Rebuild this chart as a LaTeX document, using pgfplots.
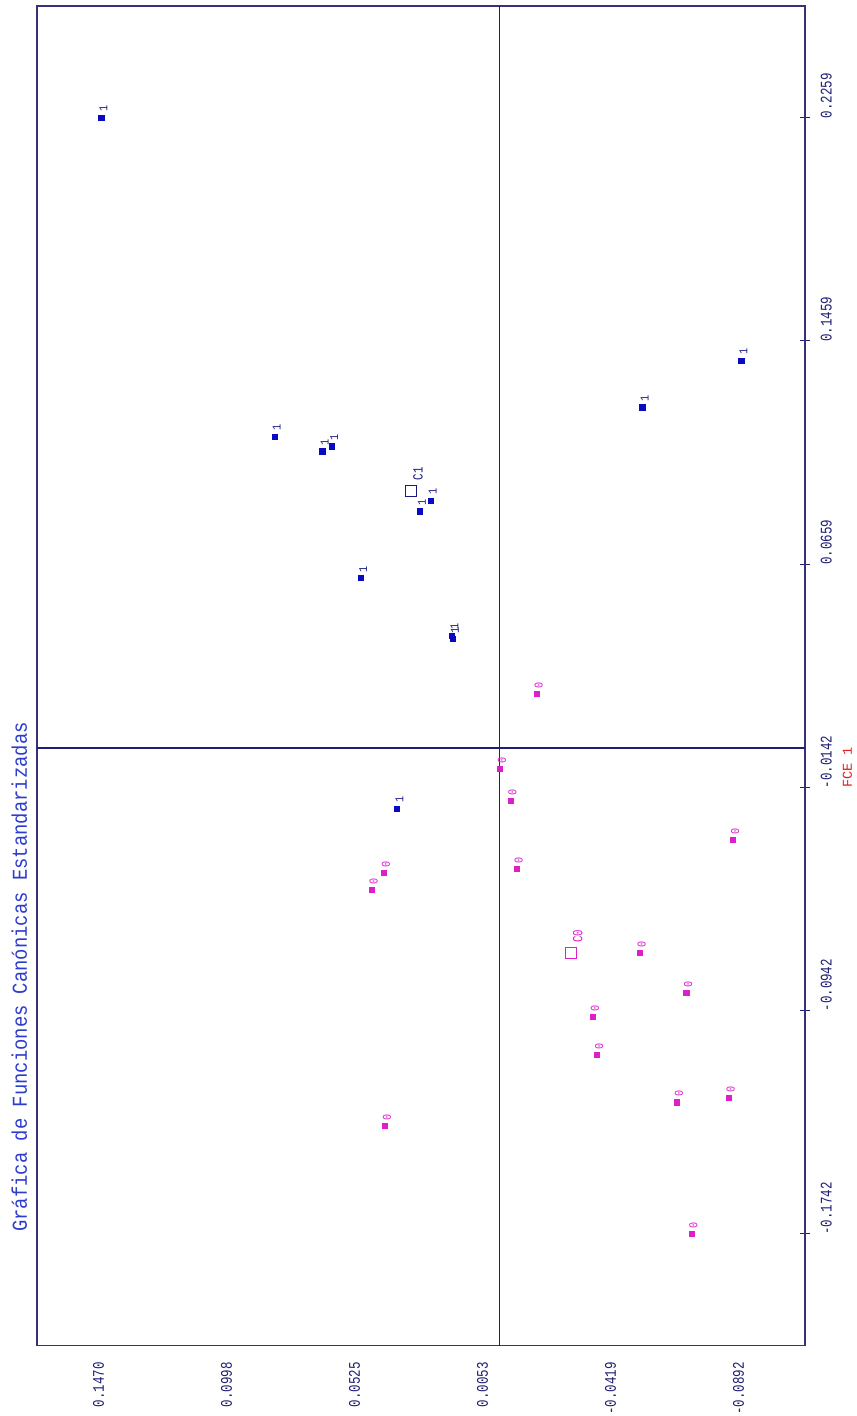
\documentclass[border=0pt]{standalone}
\usepackage{fontspec}
\usepackage{pgfplots}
\pgfplotsset{compat=1.18}
\setmainfont{Liberation Mono}
\newfontfamily\tickfam[FakeStretch=0.77]{Liberation Mono}
\newfontfamily\ptfam[FakeStretch=0.85]{Liberation Mono}
\newfontfamily\titlefam[FakeStretch=0.89]{Liberation Mono}
\newfontfamily\fcefam{Liberation Mono}
\newcommand\ticklab{\tickfam\fontsize{16.2bp}{17bp}\selectfont}
\newcommand\ptlab{\ptfam\fontsize{12bp}{13bp}\selectfont}
\newcommand\cenlab{\tickfam\fontsize{14bp}{15bp}\selectfont}
\newcommand\titlef{\titlefam\fontsize{21.2bp}{22bp}\selectfont}
\newcommand\fcef{\fcefam\fontsize{13.6bp}{14bp}\selectfont}
\definecolor{navy}{RGB}{30,30,115}
\definecolor{framec}{RGB}{55,50,120}
\definecolor{ptblue}{RGB}{10,10,195}
\definecolor{labblue}{RGB}{25,25,130}
\definecolor{ptmag}{RGB}{220,30,205}
\definecolor{titleblue}{RGB}{45,60,205}
\definecolor{fcered}{RGB}{230,30,30}

\pgfplotstableread{
v2 v1
0.1470 0.2259
0.0831 0.1116
0.0654 0.1063
0.0619 0.1081
0.0255 0.0886
0.0295 0.0848
0.0512 0.0609
0.0175 0.0403
0.0173 0.0391
-0.0527 0.1221
-0.0892 0.1388
0.0378 -0.0218
}\groupone

\pgfplotstableread{
v2 v1
-0.0137 0.0194
-0.0001 -0.0074
-0.0040 -0.0189
0.0427 -0.0447
0.0472 -0.0509
-0.0063 -0.0434
-0.0862 -0.0329
-0.0517 -0.0735
-0.0689 -0.0878
-0.0345 -0.0963
-0.0360 -0.1100
-0.0655 -0.1270
-0.0846 -0.1254
-0.0708 -0.1742
0.0423 -0.1355
}\groupzero

\begin{document}
\begin{tikzpicture}
\begin{axis}[
  scale only axis,
  width=768bp, height=1339.5bp,
  x dir=reverse,
  xmin=-0.11282, xmax=0.17062,
  ymin=-0.21421, ymax=0.26591,
  clip=false,
  axis line style={framec, line width=1.6bp},
  xtick={0.147,0.09976,0.05252,0.00528,-0.04196,-0.0892},
  xticklabels={0.1470,0.0998,0.0525,0.0053,-0.0419,-0.0892},
  ytick={0.2259,0.14588,0.06586,-0.01416,-0.09418,-0.1742},
  yticklabels={0.2259,0.1459,0.0659,-0.0142,-0.0942,-0.1742},
  ytick pos=right, xtick pos=bottom,
  ytick align=center,
  major tick length=10bp,
  y tick style={navy, line width=1.1bp},
  x tick style={draw=none},
  yticklabel style={font=\ticklab, text=navy, inner sep=0pt, xshift=21.5bp, yshift=-1bp, rotate=90, anchor=base west},
  xticklabel style={font=\ticklab, text=navy, inner sep=0pt, xshift=2.8bp, yshift=-16.5bp, rotate=90, anchor=base east},
]
\addplot[navy, line width=1.3bp] coordinates {(0,-0.21421) (0,0.26591)};
\addplot[navy, line width=1.3bp] coordinates {(-0.11282,0) (0.17062,0)};

\addplot[only marks, mark=square*, mark size=2.6bp, color=ptblue,
  nodes near coords={1},
  every node near coord/.append style={font=\ptlab, text=labblue, inner sep=0pt, xshift=6.3bp, yshift=5.5bp, rotate=90, anchor=base west}]
  table[x=v2, y=v1] {\groupone};

\addplot[only marks, mark=square*, mark size=2.6bp, color=ptmag,
  nodes near coords={0},
  every node near coord/.append style={font=\ptlab, text=ptmag, inner sep=0pt, xshift=6bp, yshift=5.3bp, rotate=90, anchor=base west}]
  table[x=v2, y=v1] {\groupzero};

\addplot[only marks, mark=square, mark size=5.5bp, color=labblue, mark options={line width=1.2bp},
  nodes near coords={C1},
  every node near coord/.append style={font=\cenlab, text=labblue, inner sep=0pt, xshift=12bp, yshift=10.3bp, rotate=90, anchor=base west}]
  coordinates {(0.0328,0.0921)};

\addplot[only marks, mark=square, mark size=5.5bp, color=ptmag, mark options={line width=1.2bp},
  nodes near coords={C0},
  every node near coord/.append style={font=\cenlab, text=ptmag, inner sep=0pt, xshift=11.7bp, yshift=10bp, rotate=90, anchor=base west}]
  coordinates {(-0.0263,-0.0736)};
\end{axis}
\node[rotate=90, anchor=base, font=\titlef, text=titleblue, inner sep=0pt] at ([shift={(-10.2bp,368.5bp)}]current axis.south west) {Gráfica de Funciones Canónicas Estandarizadas};
\node[rotate=90, anchor=base, font=\fcef, text=fcered, inner sep=0pt] at ([shift={(46.8bp,578bp)}]current axis.south east) {FCE 1};
\pgfresetboundingbox
\path ([shift={(-37.2bp,-70.5bp)}]current axis.south west) rectangle ([shift={(51.8bp,6bp)}]current axis.north east);
\end{tikzpicture}
\end{document}
